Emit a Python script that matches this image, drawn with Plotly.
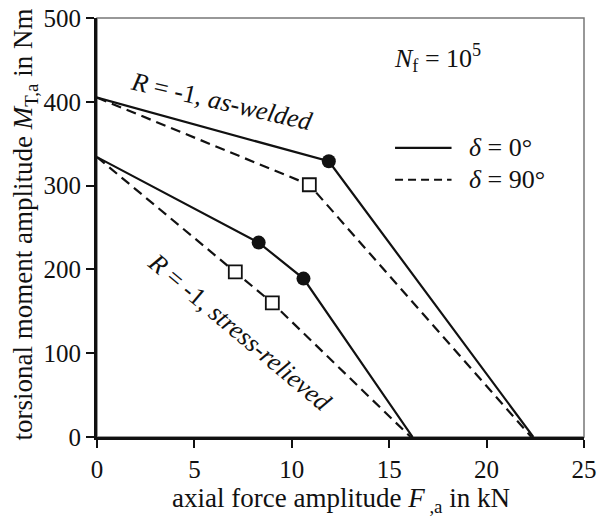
import plotly.graph_objects as go

# Fatigue strength lines at N_f = 1e5 (axial force amplitude vs torsional moment amplitude)
aw_d0_x = [0, 11.9, 22.4]
aw_d0_y = [405, 329, 0]
aw_d90_x = [0, 10.9, 22.3]
aw_d90_y = [405, 301, 0]
sr_d0_x = [0, 8.3, 10.6, 16.2]
sr_d0_y = [334, 232, 189, 0]
sr_d90_x = [0, 7.1, 9.0, 16.1]
sr_d90_y = [334, 197, 160, 0]

x_ticks = [0, 5, 10, 15, 20, 25]
y_ticks = [0, 100, 200, 300, 400, 500]

FONT = "Liberation Serif"
INK = "#111111"
DASH = "10px,6px"

fig = go.Figure()

def add_series(xs, ys, dash, marker):
    fig.add_trace(go.Scatter(x=xs, y=ys, mode="lines",
                             line=dict(color=INK, width=2.2, dash=dash),
                             showlegend=False, hoverinfo="skip"))
    if marker == "circle":
        m = dict(symbol="circle", size=14, color=INK, line=dict(width=0))
    else:
        m = dict(symbol="square-open", size=13, color=INK, line=dict(width=1.8))
        # white fill behind the open square
        fig.add_trace(go.Scatter(x=xs[1:-1], y=ys[1:-1], mode="markers",
                                 marker=dict(symbol="square", size=13, color="white"),
                                 showlegend=False, hoverinfo="skip"))
    fig.add_trace(go.Scatter(x=xs[1:-1], y=ys[1:-1], mode="markers", marker=m,
                             showlegend=False, hoverinfo="skip"))

add_series(aw_d90_x, aw_d90_y, DASH, "square")
add_series(sr_d90_x, sr_d90_y, DASH, "square")
add_series(aw_d0_x, aw_d0_y, "solid", "circle")
add_series(sr_d0_x, sr_d0_y, "solid", "circle")

# thin grey frame on top/right
fig.add_shape(type="rect", xref="paper", yref="paper", x0=0, y0=0, x1=1, y1=1,
              line=dict(color="#777777", width=1.5), layer="below")

# legend drawn by hand
fig.add_shape(type="line", xref="x", yref="y", x0=15.3, x1=18.2, y0=345, y1=345,
              line=dict(color=INK, width=2.2))
fig.add_shape(type="line", xref="x", yref="y", x0=15.3, x1=18.2, y0=307, y1=307,
              line=dict(color=INK, width=2.2, dash="8px,5px"))

ann_font = dict(family=FONT, size=26, color=INK)
fig.add_annotation(x=19.0, y=345, text="<i>δ</i> = 0°", showarrow=False,
                   xanchor="left", yanchor="middle", font=ann_font)
fig.add_annotation(x=19.0, y=307, text="<i>δ</i> = 90°", showarrow=False,
                   xanchor="left", yanchor="middle", font=ann_font)
fig.add_annotation(x=17.5, y=452, text="<i>N</i><sub>f</sub> = 10<sup>5</sup>",
                   showarrow=False, xanchor="center", yanchor="middle", font=ann_font)
fig.add_annotation(x=6.4, y=400, text="<i>R</i> = -1, <i>as-welded</i>",
                   showarrow=False, textangle=13, xanchor="center", yanchor="middle",
                   font=ann_font)
fig.add_annotation(x=7.35, y=125, text="<i>R</i> = -1, <i>stress-relieved</i>",
                   showarrow=False, textangle=40, xanchor="center", yanchor="middle",
                   font=ann_font)

# axis titles
fig.add_annotation(xref="paper", yref="paper", x=0.5, y=-0.150,
                   xanchor="center", yanchor="middle",
                   text="axial force amplitude <i>F</i><sub> ,a</sub> in kN",
                   showarrow=False, font=dict(family=FONT, size=27, color=INK))
fig.add_annotation(xref="paper", yref="paper", x=-0.148, y=0.507, textangle=-90,
                   xanchor="center", yanchor="middle",
                   text="torsional moment amplitude <i>M</i><sub>T,a</sub> in Nm",
                   showarrow=False, font=dict(family=FONT, size=27, color=INK))

axis_common = dict(showgrid=False, zeroline=False, showline=True, linecolor=INK,
                   linewidth=3, ticks="outside", ticklen=8, tickwidth=2,
                   tickcolor=INK, tickfont=dict(family=FONT, size=25, color=INK),
                   mirror=False, automargin=False)
fig.update_xaxes(range=[0, 25], tickvals=x_ticks, ticktext=[str(v) for v in x_ticks],
                 **axis_common)
fig.update_yaxes(range=[0, 500], tickvals=y_ticks, ticktext=[str(v) for v in y_ticks],
                 **axis_common)

fig.update_layout(width=598, height=518, margin=dict(l=97, r=14, t=18, b=81),
                  plot_bgcolor="white", paper_bgcolor="white", showlegend=False)

fig.write_html("out.html")
